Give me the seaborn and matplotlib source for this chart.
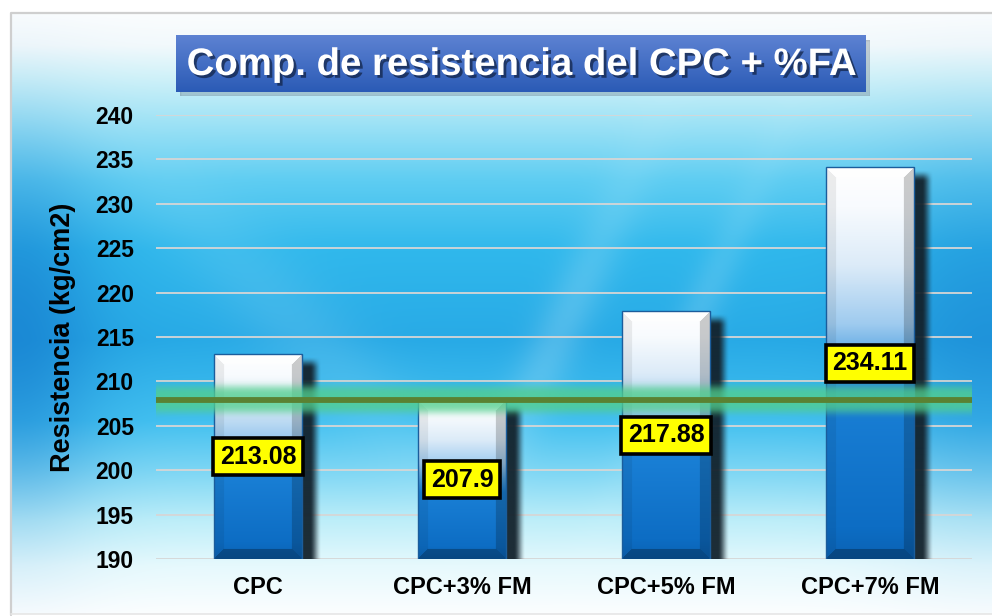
import matplotlib
matplotlib.use("Agg")
import matplotlib.pyplot as plt
import matplotlib.patheffects as pe
from matplotlib.colors import to_rgb
import numpy as np
import pandas as pd
import seaborn as sns

categories = ["CPC", "CPC+3% FM", "CPC+5% FM", "CPC+7% FM"]
resistencia = [213.08, 207.9, 217.88, 234.11]
reference = 207.9
y_ticks = list(range(190, 245, 5))
title = "Comp. de resistencia del CPC + %FA"
y_label = "Resistencia (kg/cm2)"

W, H, DPI = 992, 616, 100
Y_MIN, Y_MAX = 190, 240


def ramp(stops, pos):
    """Interpolate colour stops [(p, hex), ...] at positions pos."""
    ps = [s[0] for s in stops]
    cols = np.array([to_rgb(s[1]) for s in stops])
    return np.stack([np.interp(pos, ps, cols[:, c]) for c in range(3)], axis=-1)


def smooth(d, w):
    x = np.clip(d / w, 0, 1)
    return x * x * (3 - 2 * x)


sns.set_theme(style="white")
plt.rcParams["font.family"] = ["Liberation Sans", "DejaVu Sans"]

fig = plt.figure(figsize=(W / DPI, H / DPI), dpi=DPI)
fig.patch.set_facecolor("white")

# ---- background panel ----
yy, xx = np.mgrid[0:H, 0:W].astype(float)
vert = ramp([(0, "#ffffff"), (13, "#fbfdfe"), (45, "#f2f9fc"), (75, "#d2f2f9"),
             (115, "#a6e5f6"), (180, "#5ecdf2"), (250, "#30b8ec"), (340, "#28aae6"),
             (420, "#42c0f0"), (470, "#7dd6f4"), (520, "#bdeef9"), (565, "#e6f9fd"),
             (614, "#fcfeff"), (616, "#ffffff")], yy)
mid = np.exp(-((yy - 330) / 160) ** 2)
left = np.exp(-((xx - 15) / 80) ** 2) * mid * 0.65
right = np.exp(-((xx - 990) / 110) ** 2) * mid * 0.45
deep = np.array(to_rgb("#1478cc"))
img = vert * (1 - left[..., None]) + deep * left[..., None]
img = img * (1 - right[..., None]) + deep * right[..., None]
# soft diagonal light streaks
for x0, slope, width, amt in [(560, 0.45, 28, 0.18), (690, 0.45, 22, 0.14), (300, -0.9, 60, 0.10)]:
    d = np.abs((xx - x0) + slope * (yy - 330))
    s = np.exp(-(d / width) ** 2) * mid * amt
    img = img * (1 - s[..., None]) + s[..., None]
img[:, :11] = 1.0
img[:13, :] = 1.0
img[614:, :] = 1.0
bg = fig.add_axes([0, 0, 1, 1], zorder=-10)
bg.imshow(img, extent=[0, W, H, 0], aspect="auto", interpolation="bilinear")
bg.plot([11, 11, W], [H - 1, 13, 13], color="#cfcfcf", lw=1.6)
bg.plot([11, W], [614, 614], color="#e6e6e6", lw=1.2)
bg.set_xlim(0, W)
bg.set_ylim(H, 0)
bg.axis("off")

# ---- main chart ----
ax = fig.add_axes([156 / W, 57 / H, 816 / W, 444 / H])
ax.patch.set_alpha(0)
df = pd.DataFrame({"Muestra": categories, "Resistencia": resistencia})
sns.barplot(data=df, x="Muestra", y="Resistencia", width=0.43, color="#1a80d6",
            edgecolor="#1b5d9c", linewidth=1.0, ax=ax, zorder=4)
ax.set_ylim(Y_MIN, Y_MAX)
ax.set_xlim(-0.5, len(categories) - 0.5)

px_x = 816 / len(categories)      # pixels per category unit
px_y = 444 / (Y_MAX - Y_MIN)      # pixels per data unit
dark = np.array(to_rgb("#13222c"))

for p in ax.patches:
    x0, w, top = p.get_x(), p.get_width(), p.get_height()
    p.set_facecolor("none")
    wpx = w * px_x
    hpx = (top - Y_MIN) * px_y
    # bar body with gradient and bevel
    nr, nc = int(hpx), int(wpx)
    t = np.linspace(1, 0, nr)[:, None] * np.ones((1, nc))
    u = np.ones((nr, 1)) * np.linspace(0, 1, nc)[None, :]
    col = ramp([(0, "#0a62b4"), (0.08, "#0d6dc4"), (0.42, "#1a80d6"), (0.5, "#4c9fe0"),
                (0.6, "#9fcbef"), (0.75, "#dcebf8"), (0.9, "#f8fbfe"), (1, "#ffffff")], t)
    dl, dr = u * wpx, (1 - u) * wpx
    dtop, dbot = (1 - t) * hpx, t * hpx
    b = 10.0
    dmin = np.minimum.reduce([dl, dr, dtop, dbot])
    edge = dmin < b
    shade = np.ones_like(t)
    shade[edge & (dbot == dmin)] = 0.72
    shade[edge & (dr == dmin)] = 0.8
    shade[edge & (dl == dmin)] = 0.93
    col = col * shade[..., None]
    topm = edge & (dtop == dmin)
    col[topm] = col[topm] * 0.6 + 0.4
    ax.imshow(col, extent=[x0, x0 + w, Y_MIN, top], aspect="auto", zorder=3.5,
              interpolation="bilinear")
    # blurred drop shadow to the right
    m = 12
    sx0 = x0 + w - 6 / px_x
    sx1 = x0 + w + 14 / px_x
    sy1 = top - 8 / px_y
    ns_r, ns_c = int(hpx + 2 * m), int((sx1 - sx0) * px_x + 2 * m)
    sy = np.linspace(sy1 + m / px_y, Y_MIN - m / px_y, ns_r)[:, None]
    sxv = np.linspace(sx0 - m / px_x, sx1 + m / px_x, ns_c)[None, :]
    a = (smooth((sx1 - sxv) * px_x + m / 2, m) * smooth((sxv - sx0) * px_x + m / 2, m)
         * smooth((sy1 - sy) * px_y + m / 2, m))
    sh = np.zeros((ns_r, ns_c, 4))
    sh[..., :3] = dark
    sh[..., 3] = 0.95 * a
    ax.imshow(sh, extent=[sx0 - m / px_x, sx1 + m / px_x, Y_MIN - m / px_y, sy1 + m / px_y],
              aspect="auto", zorder=3, interpolation="bilinear")

# reference line with soft glow
gy = np.linspace(-1, 1, 80)[:, None]
glow = np.zeros((80, 2, 4))
glow[..., :3] = to_rgb("#52cf8e")
glow[..., 3] = 0.8 * np.exp(-(gy / 0.6) ** 4) * np.ones((1, 2))
ax.imshow(glow, extent=[-0.5, len(categories) - 0.5, reference - 2.6, reference + 2.6],
          aspect="auto", zorder=5, interpolation="bilinear")
ax.axhline(reference, color="#5a8232", lw=4.2, zorder=6)

# value labels in yellow boxes, centred on each bar
for i, v in enumerate(resistencia):
    ax.text(i, (Y_MIN + v) / 2, f"{v:g}", ha="center", va="center",
            fontsize=18, fontweight="bold", color="black", zorder=10,
            bbox=dict(boxstyle="square,pad=0.26", fc="#ffff00", ec="black", lw=2.6))

ax.set_yticks(y_ticks)
ax.yaxis.grid(True, color="#d6d6d6", lw=1.3)
ax.xaxis.grid(False)
ax.set_axisbelow(True)
for s in ax.spines.values():
    s.set_visible(False)
ax.tick_params(axis="both", length=0, colors="black")
ax.tick_params(axis="y", pad=16, labelsize=16.5)
ax.tick_params(axis="x", pad=12, labelsize=17)
for lab in ax.get_xticklabels() + ax.get_yticklabels():
    lab.set_fontweight("bold")
ax.set_xlabel("")
ax.set_ylabel(y_label, fontsize=19.5, fontweight="bold", color="black", labelpad=14)

# ---- title box ----
sh_ax = fig.add_axes([180 / W, (616 - 96) / H, 690 / W, 56 / H], zorder=1)
sh_ax.add_patch(plt.Rectangle((0, 0), 1, 1, color="#6a7a88", alpha=0.35))
sh_ax.axis("off")
tb = fig.add_axes([176 / W, (616 - 92) / H, 690 / W, 57 / H], zorder=2)
tg = ramp([(0, "#5d82d2"), (1, "#2b5bb6")], np.linspace(0, 1, 50))[:, None, :] * np.ones((1, 2, 1))
tb.imshow(tg, extent=[0, 1, 0, 1], aspect="auto")
tb.axis("off")
fig.text(522 / W, (616 - 65) / H, title, ha="center", va="center", fontsize=27.6,
         fontweight="bold", color="white", zorder=5,
         path_effects=[pe.withSimplePatchShadow(offset=(2, -2), shadow_rgbFace="#102040", alpha=0.7)])

fig.savefig("out.png", dpi=DPI)
